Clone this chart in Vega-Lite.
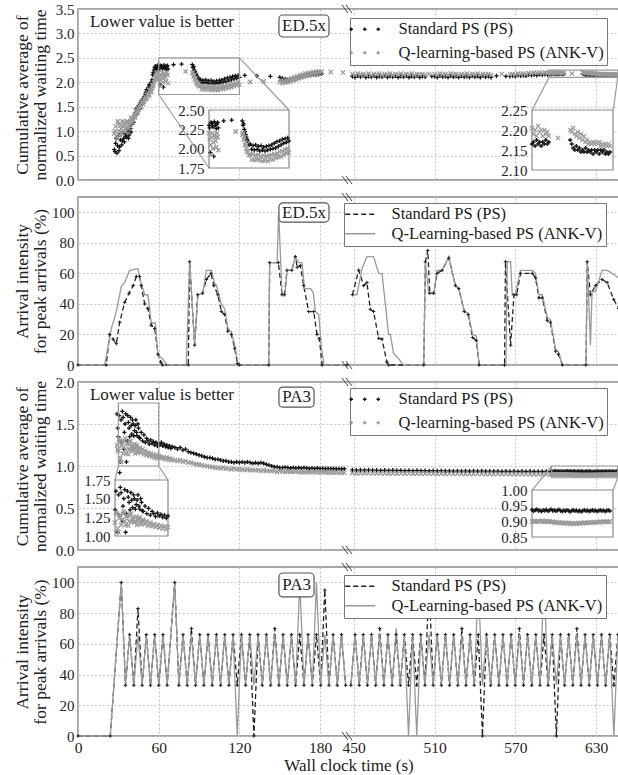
{
"$schema":"https://vega.github.io/schema/vega-lite/v6.json",
"background":"white",
"padding":{"left":12,"top":1,"right":0,"bottom":0},
"autosize":{"type":"pad"},
"bounds":"flush",
"spacing":17,
"datasets":{
"s1":[{"t":27,"p":0.62,"q":0.95},{"t":27.5,"p":0.58,"q":1.0},{"t":28,"p":0.75,"q":1.1},{"t":28.5,"p":0.85,"q":0.9},{"t":29,"p":0.55,"q":0.85},{"t":29.5,"p":0.7,"q":1.2},{"t":30,"p":0.9,"q":1.15},{"t":30.5,"p":0.6,"q":1.0},{"t":31,"p":0.68,"q":0.92},{"t":31.5,"p":0.82,"q":1.12},{"t":32,"p":0.95,"q":1.05},{"t":32.5,"p":0.72,"q":0.95},{"t":33,"p":0.8,"q":1.2},{"t":33.5,"p":0.98,"q":1.1},{"t":34,"p":0.85,"q":1.0},{"t":34.5,"p":0.78,"q":1.18},{"t":35,"p":0.95,"q":1.12},{"t":35.5,"p":0.9,"q":1.0},{"t":36,"p":0.88,"q":1.08},{"t":36.5,"p":1.02,"q":1.2},{"t":37,"p":1.0,"q":1.18},{"t":37.5,"p":0.85,"q":1.05},{"t":38,"p":0.92,"q":1.1},{"t":38.5,"p":1.1,"q":1.15},{"t":39,"p":1.05,"q":1.2},{"t":39.5,"p":0.98,"q":1.28},{"t":40,"p":1.15,"q":1.25},{"t":40.5,"p":1.22,"q":1.18},{"t":41,"p":1.25,"q":1.22},{"t":41.5,"p":1.18,"q":1.3},{"t":42,"p":1.3,"q":1.32},{"t":42.5,"p":1.38,"q":1.28},{"t":43,"p":1.45,"q":1.35},{"t":43.5,"p":1.35,"q":1.4},{"t":44,"p":1.4,"q":1.42},{"t":44.5,"p":1.48,"q":1.38},{"t":45,"p":1.52,"q":1.45},{"t":45.5,"p":1.45,"q":1.5},{"t":46,"p":1.5,"q":1.55},{"t":46.5,"p":1.58,"q":1.48},{"t":47,"p":1.62,"q":1.5},{"t":47.5,"p":1.55,"q":1.58},{"t":48,"p":1.58,"q":1.62},{"t":48.5,"p":1.66,"q":1.55},{"t":49,"p":1.7,"q":1.6},{"t":49.5,"p":1.65,"q":1.66},{"t":50,"p":1.75,"q":1.7},{"t":50.5,"p":1.8,"q":1.65},{"t":51,"p":1.85,"q":1.68},{"t":51.5,"p":1.78,"q":1.74},{"t":52,"p":1.82,"q":1.78},{"t":52.5,"p":1.9,"q":1.72},{"t":53,"p":1.95,"q":1.75},{"t":53.5,"p":1.88,"q":1.82},{"t":54,"p":1.9,"q":1.85},{"t":54.5,"p":2.0,"q":1.8},{"t":55,"p":2.05,"q":1.88},{"t":55.5,"p":2.15,"q":1.92},{"t":56,"p":2.2,"q":1.95},{"t":56.5,"p":2.25,"q":2.0},{"t":57,"p":2.3,"q":2.05},{"t":57.5,"p":2.33,"q":2.1},{"t":58,"p":2.28,"q":2.15},{"t":58.5,"p":2.25,"q":2.2},{"t":59,"p":2.32,"q":2.1},{"t":59.5,"p":2.35,"q":2.05},{"t":60,"p":2.3,"q":2.2},{"t":60.5,"p":2.27,"q":2.12},{"t":61,"p":1.95,"q":2.05},{"t":61.5,"p":2.34,"q":1.92},{"t":62,"p":2.33,"q":2.15},{"t":62.5,"p":2.3,"q":2.2},{"t":63,"p":2.28,"q":2.0},{"t":63.5,"p":1.9,"q":2.08},{"t":64,"p":2.35,"q":2.18},{"t":64.5,"p":2.33,"q":2.15},{"t":65,"p":2.3,"q":2.1},{"t":65.5,"p":2.26,"q":2.02},{"t":66,"p":2.32,"q":2.2},{"t":66.5,"p":2.34,"q":2.15},{"t":67,"p":2.27,"q":1.98},
{"t":71,"p":2.36},{"t":77,"p":2.37},{"t":80,"q":2.22},
{"t":85,"p":2.36,"q":2.18},{"t":85.5,"p":2.3,"q":2.2},{"t":86,"p":2.32,"q":2.12},{"t":86.5,"p":2.25,"q":2.15},{"t":87,"p":2.22,"q":2.05},{"t":87.5,"p":2.18,"q":2.08},{"t":88,"p":2.15,"q":2.0},{"t":88.5,"p":2.12,"q":1.97},{"t":89,"p":2.1,"q":1.95},{"t":90,"p":2.05,"q":1.92},{"t":91,"p":2.06,"q":1.92},{"t":92,"p":1.99,"q":1.86},{"t":93,"p":2.04,"q":1.93},{"t":94,"p":1.98,"q":1.85},{"t":95,"p":2.05,"q":1.91},{"t":96,"p":1.99,"q":1.86},{"t":97,"p":2.03,"q":1.92},{"t":98,"p":1.97,"q":1.85},{"t":99,"p":2.04,"q":1.9},{"t":100,"p":1.98,"q":1.84},{"t":101,"p":2.02,"q":1.91},{"t":102,"p":1.97,"q":1.85},{"t":103,"p":2.03,"q":1.9},{"t":104,"p":1.98,"q":1.84},{"t":105,"p":2.04,"q":1.91},{"t":106,"p":1.99,"q":1.86},{"t":107,"p":2.05,"q":1.92},{"t":108,"p":2.0,"q":1.86},{"t":109,"p":2.07,"q":1.93},{"t":110,"p":2.01,"q":1.88},{"t":111,"p":2.09,"q":1.94},{"t":112,"p":2.03,"q":1.89},{"t":113,"p":2.1,"q":1.96},{"t":114,"p":2.05,"q":1.9},{"t":115,"p":2.12,"q":1.97},{"t":116,"p":2.07,"q":1.92},{"t":117,"p":2.13,"q":1.99},{"t":118,"p":2.08,"q":1.94},{"t":119,"p":2.14,"q":2.0},{"t":120,"p":2.1,"q":1.95},
{"t":124,"p":2.14},{"t":128,"q":2.01},{"t":133,"p":2.13},{"t":138,"q":2.02},{"t":143,"p":2.12},
{"t":150,"p":2.1,"q":2.0},{"t":151,"p":2.05,"q":2.04},{"t":152,"p":2.08,"q":1.98},{"t":153,"p":2.03,"q":2.03},{"t":154,"p":2.07,"q":1.99},{"t":155,"p":2.02,"q":2.04},{"t":156,"p":2.06,"q":2.0},{"t":157,"p":2.03,"q":2.06},{"t":158,"p":2.07,"q":2.02},{"t":159,"p":2.04,"q":2.08},{"t":160,"p":2.08,"q":2.04},{"t":161,"p":2.05,"q":2.1},{"t":162,"p":2.1,"q":2.06},{"t":163,"p":2.07,"q":2.12},{"t":164,"p":2.12,"q":2.08},{"t":165,"p":2.09,"q":2.14},{"t":166,"p":2.14,"q":2.1},{"t":167,"p":2.11,"q":2.16},{"t":168,"p":2.15,"q":2.12},{"t":169,"p":2.12,"q":2.18},{"t":170,"p":2.16,"q":2.14},{"t":171,"p":2.13,"q":2.19},{"t":172,"p":2.17,"q":2.15},{"t":173,"p":2.14,"q":2.2},{"t":174,"p":2.18,"q":2.16},{"t":175,"p":2.15,"q":2.21},{"t":176,"p":2.18,"q":2.17},{"t":177,"p":2.15,"q":2.22},{"t":178,"p":2.19,"q":2.18},{"t":179,"p":2.16,"q":2.22},{"t":180,"p":2.19,"q":2.19},{"t":181,"p":2.17,"q":2.22},
{"t":188,"q":2.21},{"t":197,"q":2.2},
{"t":449,"p":2.12,"q":2.17},{"t":451,"p":2.1,"q":2.15},{"t":453,"p":2.13,"q":2.18},{"t":455,"p":2.11,"q":2.16},{"t":457,"p":2.14,"q":2.17},{"t":459,"p":2.1,"q":2.15},{"t":461,"p":2.12,"q":2.18},{"t":463,"p":2.11,"q":2.15},{"t":465,"p":2.13,"q":2.17},{"t":467,"p":2.1,"q":2.16},{"t":469,"p":2.12,"q":2.18},{"t":471,"p":2.11,"q":2.15},{"t":473,"p":2.14,"q":2.17},{"t":475,"p":2.1,"q":2.16},{"t":477,"p":2.12,"q":2.18},{"t":479,"p":2.11,"q":2.15},{"t":481,"p":2.13,"q":2.17},{"t":483,"p":2.1,"q":2.16},{"t":485,"p":2.12,"q":2.18},{"t":487,"p":2.11,"q":2.15},{"t":489,"p":2.13,"q":2.17},{"t":491,"p":2.1,"q":2.16},{"t":493,"p":2.12,"q":2.18},{"t":495,"p":2.11,"q":2.15},{"t":497,"p":2.13,"q":2.17},{"t":499,"p":2.1,"q":2.16},{"t":501,"p":2.12,"q":2.17},{"t":503,"p":2.11,"q":2.15},
{"t":506,"q":2.17},{"t":508,"p":2.12},
{"t":510,"p":2.12,"q":2.17},{"t":512,"p":2.1,"q":2.15},{"t":514,"p":2.13,"q":2.18},{"t":516,"p":2.11,"q":2.16},{"t":518,"p":2.12,"q":2.17},{"t":520,"p":2.1,"q":2.15},{"t":522,"p":2.13,"q":2.18},{"t":524,"p":2.11,"q":2.16},{"t":526,"p":2.12,"q":2.17},{"t":528,"p":2.1,"q":2.15},{"t":530,"p":2.13,"q":2.17},{"t":532,"p":2.11,"q":2.16},{"t":534,"p":2.12,"q":2.18},{"t":536,"p":2.1,"q":2.15},{"t":538,"p":2.13,"q":2.17},{"t":540,"p":2.11,"q":2.16},{"t":542,"p":2.12,"q":2.18},{"t":544,"p":2.1,"q":2.15},{"t":546,"p":2.13,"q":2.17},{"t":548,"p":2.11,"q":2.16},{"t":550,"p":2.12,"q":2.17},{"t":552,"p":2.1,"q":2.15},
{"t":556,"p":2.13},{"t":560,"q":2.17},{"t":563,"p":2.12},
{"t":566,"p":2.12,"q":2.16},{"t":568,"p":2.13,"q":2.17},{"t":570,"p":2.12,"q":2.16},{"t":572,"p":2.14,"q":2.18},{"t":574,"p":2.13,"q":2.17},{"t":576,"p":2.14,"q":2.18},{"t":578,"p":2.13,"q":2.17},{"t":580,"p":2.15,"q":2.19},{"t":582,"p":2.14,"q":2.18},{"t":584,"p":2.15,"q":2.2},{"t":586,"p":2.14,"q":2.19},{"t":588,"p":2.16,"q":2.2},{"t":590,"p":2.15,"q":2.19},{"t":592,"p":2.16,"q":2.2},{"t":594,"p":2.15,"q":2.19},
{"t":595,"p":2.165,"q":2.205},{"t":596,"p":2.17,"q":2.19},{"t":597,"p":2.16,"q":2.2},{"t":598,"p":2.175,"q":2.185},{"t":599,"p":2.165,"q":2.21},{"t":600,"p":2.17,"q":2.195},{"t":601,"p":2.16,"q":2.2},{"t":602,"p":2.17,"q":2.185},{"t":603,"p":2.165,"q":2.2},{"t":604,"p":2.175,"q":2.19},{"t":605,"p":2.165,"q":2.195},{"t":606,"p":2.17,"q":2.185},
{"t":612,"q":2.18},
{"t":620,"p":2.175,"q":2.2},{"t":621,"p":2.165,"q":2.195},{"t":622,"p":2.155,"q":2.205},{"t":623,"p":2.15,"q":2.19},{"t":624,"p":2.16,"q":2.185},{"t":625,"p":2.15,"q":2.195},{"t":626,"p":2.155,"q":2.18},{"t":627,"p":2.145,"q":2.19},{"t":628,"p":2.15,"q":2.175},{"t":629,"p":2.145,"q":2.185},{"t":630,"p":2.155,"q":2.17},{"t":631,"p":2.145,"q":2.175},{"t":632,"p":2.15,"q":2.165},{"t":633,"p":2.145,"q":2.17},{"t":634,"p":2.15,"q":2.165},{"t":635,"p":2.14,"q":2.17},{"t":636,"p":2.15,"q":2.165},{"t":637,"p":2.145,"q":2.17},{"t":638,"p":2.15,"q":2.165},{"t":639,"p":2.14,"q":2.17},{"t":640,"p":2.15,"q":2.16},{"t":641,"p":2.145,"q":2.165},{"t":642,"p":2.15,"q":2.16},{"t":643,"p":2.14,"q":2.165},{"t":644,"p":2.145,"q":2.16},{"t":645,"p":2.14,"q":2.165},{"t":646,"p":2.145,"q":2.16}],
"s3":[{"t":29,"p":1.62,"q":1.25},{"t":29.5,"p":1.45,"q":1.2},{"t":30,"p":1.35,"q":1.18},{"t":30.5,"p":1.6,"q":1.32},{"t":31,"p":0.92,"q":1.3},{"t":31.5,"p":1.05,"q":1.1},{"t":32,"p":1.55,"q":1.05},{"t":32.5,"p":1.28,"q":1.24},{"t":33,"p":1.65,"q":1.28},{"t":33.5,"p":1.58,"q":1.15},{"t":34,"p":1.2,"q":1.22},{"t":34.5,"p":1.4,"q":1.3},{"t":35,"p":1.5,"q":1.33},{"t":35.5,"p":1.62,"q":1.2},{"t":36,"p":1.05,"q":1.15},{"t":36.5,"p":1.3,"q":1.26},{"t":37,"p":1.6,"q":1.27},{"t":37.5,"p":1.52,"q":1.14},{"t":38,"p":1.45,"q":1.2},{"t":38.5,"p":1.35,"q":1.28},{"t":39,"p":1.58,"q":1.3},{"t":39.5,"p":1.48,"q":1.19},{"t":40,"p":1.38,"q":1.24},{"t":40.5,"p":1.55,"q":1.23},{"t":41,"p":1.5,"q":1.18},{"t":41.5,"p":1.36,"q":1.2},{"t":42,"p":1.42,"q":1.26},{"t":42.5,"p":1.48,"q":1.15},{"t":43,"p":1.55,"q":1.21},{"t":43.5,"p":1.4,"q":1.23},{"t":44,"p":1.36,"q":1.25},{"t":44.5,"p":1.5,"q":1.16},{"t":45,"p":1.45,"q":1.17},{"t":45.5,"p":1.34,"q":1.2},{"t":46,"p":1.33,"q":1.22},{"t":47,"p":1.4,"q":1.16},{"t":48,"p":1.3,"q":1.2},{"t":49,"p":1.37,"q":1.14},{"t":50,"p":1.28,"q":1.18},{"t":51,"p":1.33,"q":1.13},{"t":52,"p":1.3,"q":1.16},{"t":53,"p":1.26,"q":1.12},{"t":54,"p":1.31,"q":1.15},{"t":55,"p":1.27,"q":1.11},{"t":56,"p":1.29,"q":1.14},{"t":57,"p":1.25,"q":1.1},{"t":58,"p":1.28,"q":1.13},{"t":59,"p":1.24,"q":1.09},{"t":60,"p":1.27,"q":1.12},{"t":61,"p":1.25,"q":1.1},{"t":62,"p":1.28,"q":1.11},{"t":63,"p":1.24,"q":1.09},{"t":64,"p":1.26,"q":1.1},{"t":65,"p":1.23,"q":1.08},{"t":66,"p":1.25,"q":1.1},{"t":67,"p":1.22,"q":1.08},{"t":68,"p":1.24,"q":1.09},{"t":69,"p":1.21,"q":1.07},{"t":70,"p":1.23,"q":1.08},
{"t":72,"p":1.22,"q":1.07},{"t":74,"p":1.2,"q":1.06},{"t":76,"p":1.22,"q":1.07},{"t":78,"p":1.19,"q":1.05},{"t":80,"p":1.2,"q":1.06},{"t":82,"p":1.17,"q":1.04},{"t":84,"p":1.16,"q":1.04},{"t":86,"p":1.15,"q":1.03},{"t":88,"p":1.14,"q":1.02},{"t":90,"p":1.13,"q":1.02},{"t":92,"p":1.12,"q":1.01},{"t":94,"p":1.11,"q":1.0},{"t":96,"p":1.1,"q":1.0},{"t":98,"p":1.1,"q":0.99},{"t":100,"p":1.09,"q":0.99},{"t":102,"p":1.08,"q":0.98},{"t":104,"p":1.08,"q":0.98},{"t":106,"p":1.07,"q":0.97},{"t":108,"p":1.06,"q":0.98},{"t":110,"p":1.06,"q":0.97},{"t":112,"p":1.05,"q":0.97},{"t":114,"p":1.05,"q":0.96},{"t":116,"p":1.04,"q":0.97},{"t":118,"p":1.05,"q":0.96},{"t":120,"p":1.04,"q":0.96},{"t":122,"p":1.05,"q":0.96},{"t":124,"p":1.04,"q":0.95},{"t":126,"p":1.05,"q":0.96},{"t":128,"p":1.04,"q":0.95},{"t":130,"p":1.03,"q":0.95},{"t":132,"p":1.04,"q":0.95},{"t":134,"p":1.03,"q":0.95},{"t":136,"p":1.04,"q":0.94},{"t":138,"p":1.03,"q":0.95},{"t":140,"p":1.02,"q":0.94},{"t":142,"p":1.01,"q":0.94},{"t":144,"p":1.0,"q":0.94},{"t":146,"p":0.99,"q":0.94},{"t":148,"p":0.99,"q":0.93},{"t":150,"p":0.98,"q":0.94},{"t":152,"p":0.98,"q":0.935},{"t":154,"p":0.985,"q":0.93},{"t":156,"p":0.98,"q":0.935},{"t":158,"p":0.975,"q":0.93},{"t":160,"p":0.98,"q":0.93},{"t":162,"p":0.975,"q":0.935},{"t":164,"p":0.98,"q":0.93},{"t":166,"p":0.975,"q":0.925},{"t":168,"p":0.98,"q":0.93},{"t":170,"p":0.975,"q":0.925},{"t":172,"p":0.97,"q":0.93},{"t":174,"p":0.975,"q":0.925},{"t":176,"p":0.97,"q":0.93},{"t":178,"p":0.975,"q":0.925},{"t":180,"p":0.97,"q":0.925},{"t":182,"p":0.972,"q":0.928},{"t":184,"p":0.968,"q":0.925},{"t":186,"p":0.97,"q":0.922},{"t":188,"p":0.968,"q":0.925},{"t":190,"p":0.97,"q":0.922},{"t":192,"p":0.966,"q":0.924},{"t":194,"p":0.968,"q":0.92},{"t":196,"p":0.965,"q":0.922},{"t":198,"p":0.967,"q":0.92},
{"t":449,"p":0.955,"q":0.916},{"t":452,"p":0.952,"q":0.913},{"t":455,"p":0.954,"q":0.915},{"t":458,"p":0.951,"q":0.912},{"t":461,"p":0.953,"q":0.914},{"t":464,"p":0.95,"q":0.911},{"t":467,"p":0.952,"q":0.913},{"t":470,"p":0.949,"q":0.911},{"t":473,"p":0.951,"q":0.912},{"t":476,"p":0.948,"q":0.91},{"t":479,"p":0.95,"q":0.912},{"t":482,"p":0.947,"q":0.91},{"t":485,"p":0.949,"q":0.911},{"t":488,"p":0.946,"q":0.909},{"t":491,"p":0.948,"q":0.911},{"t":494,"p":0.945,"q":0.909},{"t":497,"p":0.947,"q":0.91},{"t":500,"p":0.944,"q":0.908},{"t":503,"p":0.946,"q":0.91},{"t":506,"p":0.943,"q":0.908},{"t":509,"p":0.945,"q":0.909},{"t":512,"p":0.942,"q":0.907},{"t":515,"p":0.944,"q":0.909},{"t":518,"p":0.941,"q":0.907},{"t":521,"p":0.943,"q":0.908},{"t":524,"p":0.94,"q":0.906},{"t":527,"p":0.942,"q":0.908},{"t":530,"p":0.94,"q":0.906},{"t":533,"p":0.942,"q":0.907},{"t":536,"p":0.939,"q":0.905},{"t":539,"p":0.941,"q":0.907},{"t":542,"p":0.939,"q":0.905},{"t":545,"p":0.941,"q":0.906},{"t":548,"p":0.938,"q":0.904},{"t":551,"p":0.94,"q":0.906},{"t":554,"p":0.938,"q":0.904},{"t":557,"p":0.94,"q":0.905},{"t":560,"p":0.937,"q":0.903},{"t":563,"p":0.939,"q":0.905},{"t":566,"p":0.937,"q":0.903},{"t":569,"p":0.939,"q":0.904},{"t":572,"p":0.936,"q":0.902},{"t":575,"p":0.938,"q":0.904},{"t":578,"p":0.936,"q":0.902},{"t":581,"p":0.938,"q":0.903},{"t":584,"p":0.935,"q":0.901},{"t":587,"p":0.937,"q":0.903},{"t":590,"p":0.935,"q":0.901},{"t":593,"p":0.937,"q":0.902},
{"t":596,"p":0.934,"q":0.901},{"t":597,"p":0.937,"q":0.899},{"t":598,"p":0.933,"q":0.902},{"t":599,"p":0.936,"q":0.9},{"t":600,"p":0.938,"q":0.898},{"t":601,"p":0.934,"q":0.901},{"t":602,"p":0.935,"q":0.899},{"t":603,"p":0.932,"q":0.902},{"t":604,"p":0.936,"q":0.9},{"t":605,"p":0.934,"q":0.898},{"t":606,"p":0.937,"q":0.901},{"t":607,"p":0.933,"q":0.899},{"t":608,"p":0.935,"q":0.9},{"t":609,"p":0.938,"q":0.897},{"t":610,"p":0.934,"q":0.899},{"t":611,"p":0.936,"q":0.896},{"t":612,"p":0.933,"q":0.898},{"t":613,"p":0.935,"q":0.895},{"t":614,"p":0.937,"q":0.897},{"t":615,"p":0.934,"q":0.894},{"t":616,"p":0.932,"q":0.896},{"t":617,"p":0.935,"q":0.893},{"t":618,"p":0.933,"q":0.895},{"t":619,"p":0.936,"q":0.893},{"t":620,"p":0.934,"q":0.895},{"t":621,"p":0.931,"q":0.892},{"t":622,"p":0.934,"q":0.894},{"t":623,"p":0.936,"q":0.892},{"t":624,"p":0.933,"q":0.894},{"t":625,"p":0.935,"q":0.893},{"t":626,"p":0.932,"q":0.895},{"t":627,"p":0.934,"q":0.893},{"t":628,"p":0.931,"q":0.895},{"t":629,"p":0.934,"q":0.894},{"t":630,"p":0.936,"q":0.896},{"t":631,"p":0.933,"q":0.894},{"t":632,"p":0.935,"q":0.896},{"t":633,"p":0.932,"q":0.895},{"t":634,"p":0.934,"q":0.897},{"t":635,"p":0.936,"q":0.896},{"t":636,"p":0.933,"q":0.898},{"t":637,"p":0.935,"q":0.896},{"t":638,"p":0.932,"q":0.898},{"t":639,"p":0.934,"q":0.897},{"t":640,"p":0.936,"q":0.899},{"t":641,"p":0.933,"q":0.897},{"t":642,"p":0.935,"q":0.899},{"t":643,"p":0.932,"q":0.898},{"t":644,"p":0.934,"q":0.9},{"t":645,"p":0.936,"q":0.898},{"t":646,"p":0.933,"q":0.9}],
"l2":[{"t":0,"p":0},{"t":21,"p":0},{"t":23.5,"p":20},{"t":26,"p":17},{"t":28.5,"p":14},{"t":31,"p":28},{"t":34.7,"p":41},{"t":38,"p":47},{"t":41,"p":52},{"t":43.4,"p":58},{"t":45.8,"p":58},{"t":47,"p":52},{"t":49.6,"p":40},{"t":52,"p":37},{"t":54.5,"p":26},{"t":57,"p":24},{"t":59.5,"p":7},{"t":61.5,"p":2},{"t":63,"p":0},{"t":82,"p":0},{"t":83,"p":67.6},{"t":86.7,"p":13},{"t":89,"p":46},{"t":92.6,"p":47},{"t":95.5,"p":56},{"t":98.8,"p":60},{"t":101,"p":52},{"t":104,"p":46},{"t":106.6,"p":35},{"t":109,"p":33},{"t":111.5,"p":22},{"t":114,"p":20},{"t":116.5,"p":11},{"t":118.5,"p":1},{"t":120,"p":0},{"t":141.8,"p":0},{"t":142.5,"p":67},{"t":149,"p":67},{"t":151.7,"p":46},{"t":153.5,"p":46},{"t":155.4,"p":62},{"t":159,"p":62},{"t":161.6,"p":71},{"t":163,"p":64},{"t":165.3,"p":65},{"t":167.8,"p":52},{"t":171.5,"p":35},{"t":175.2,"p":35},{"t":177.7,"p":20},{"t":179.5,"p":17},{"t":181.5,"p":0},{"t":200,"p":0},
{"t":449,"p":46},{"t":453.7,"p":62},{"t":457.4,"p":52},{"t":459.8,"p":54},{"t":462.3,"p":36.5},{"t":464.7,"p":35},{"t":468.5,"p":17.5},{"t":471,"p":17},{"t":474.6,"p":2},{"t":476,"p":0},{"t":502,"p":0},{"t":503.2,"p":67.6},{"t":505,"p":75},{"t":506.5,"p":47},{"t":509.4,"p":47},{"t":511.9,"p":60},{"t":515.6,"p":62},{"t":520.6,"p":70},{"t":525.5,"p":52},{"t":528,"p":50},{"t":532.1,"p":35},{"t":535,"p":33},{"t":538.3,"p":18},{"t":541,"p":16},{"t":543.2,"p":0},{"t":562,"p":0},{"t":562.7,"p":67.6},{"t":566.5,"p":13},{"t":569,"p":46},{"t":571,"p":46},{"t":573.8,"p":60},{"t":582.5,"p":60},{"t":585,"p":57},{"t":587.5,"p":44},{"t":590,"p":44},{"t":593.8,"p":29},{"t":596,"p":28},{"t":600,"p":9},{"t":602,"p":7},{"t":605,"p":0},{"t":622.5,"p":0},{"t":623.4,"p":67.6},{"t":625.8,"p":46},{"t":629.5,"p":52},{"t":634.4,"p":56},{"t":638.2,"p":54},{"t":643,"p":43},{"t":646.8,"p":37},
{"t":0,"q":0},{"t":19.8,"q":0},{"t":24.8,"q":24},{"t":28.5,"q":35},{"t":32.2,"q":51.5},{"t":34.7,"q":54},{"t":38.4,"q":62},{"t":44.6,"q":63},{"t":45.8,"q":57},{"t":49.6,"q":46},{"t":52,"q":46},{"t":54.5,"q":27.5},{"t":57.5,"q":27.5},{"t":59.5,"q":6.5},{"t":63,"q":4},{"t":65.5,"q":1},{"t":67,"q":0},{"t":80.5,"q":0},{"t":83,"q":67.7},{"t":86.7,"q":13},{"t":89.2,"q":46},{"t":92.9,"q":47},{"t":95.4,"q":62},{"t":99.1,"q":62},{"t":101.6,"q":53.5},{"t":103,"q":52},{"t":106.6,"q":39.5},{"t":109,"q":37},{"t":111.5,"q":24},{"t":114,"q":22},{"t":116.5,"q":13},{"t":119,"q":1},{"t":120.5,"q":0},{"t":141.8,"q":0},{"t":142.5,"q":67},{"t":148,"q":67},{"t":149.2,"q":100},{"t":151.7,"q":46},{"t":154,"q":47},{"t":155.5,"q":62},{"t":159,"q":62},{"t":161.6,"q":71},{"t":164,"q":67},{"t":166.5,"q":67},{"t":168.5,"q":50},{"t":173,"q":50},{"t":175,"q":47},{"t":176.5,"q":35},{"t":179,"q":33},{"t":181,"q":11},{"t":183,"q":0},{"t":200,"q":0},
{"t":449,"q":46},{"t":452.4,"q":46},{"t":456.1,"q":63},{"t":459.8,"q":71},{"t":464.7,"q":71},{"t":468.5,"q":60},{"t":471,"q":60},{"t":475.9,"q":20},{"t":477.2,"q":20},{"t":479.6,"q":7.6},{"t":483.4,"q":4},{"t":487,"q":0},{"t":502,"q":0},{"t":503.2,"q":67.6},{"t":505.7,"q":47},{"t":509.4,"q":47},{"t":511.9,"q":62},{"t":515.6,"q":62},{"t":520.6,"q":71},{"t":525.5,"q":52},{"t":528,"q":50},{"t":532.1,"q":35},{"t":535,"q":34},{"t":538.3,"q":20},{"t":541,"q":19},{"t":543.2,"q":0},{"t":563,"q":0},{"t":564,"q":67.6},{"t":566.5,"q":67.6},{"t":567.7,"q":46},{"t":570,"q":46},{"t":573.8,"q":62},{"t":582.5,"q":62},{"t":585,"q":60},{"t":587.5,"q":46},{"t":590,"q":46},{"t":593.8,"q":31},{"t":596,"q":30},{"t":600,"q":10},{"t":602,"q":9},{"t":605,"q":0},{"t":622.5,"q":0},{"t":623.4,"q":67.6},{"t":625.8,"q":13},{"t":627,"q":48},{"t":629.5,"q":48},{"t":634.4,"q":62},{"t":638.2,"q":62},{"t":641.9,"q":60},{"t":646.8,"q":57}],
"l4":[{"t":0,"p":0,"q":0},{"t":24,"p":0,"q":0},{"t":32.2,"p":100,"q":100},{"t":35.3,"p":33,"q":33},{"t":38.4,"p":66,"q":66},{"t":41.5,"p":33,"q":33},{"t":44.6,"p":83,"q":66},{"t":47.7,"p":33,"q":33},{"t":50.8,"p":66,"q":66},{"t":53.9,"p":33,"q":33},{"t":57,"p":66,"q":66},{"t":60.1,"p":33,"q":33},{"t":63.2,"p":66,"q":66},{"t":66.3,"p":33,"q":33},{"t":71.9,"p":100,"q":100},{"t":75,"p":33,"q":33},{"t":78.1,"p":66,"q":66},{"t":81.2,"p":33,"q":33},{"t":84.3,"p":70,"q":66},{"t":87.4,"p":33,"q":33},{"t":90.5,"p":66,"q":66},{"t":93.6,"p":33,"q":33},{"t":96.7,"p":66,"q":66},{"t":99.8,"p":33,"q":33},{"t":102.9,"p":66,"q":66},{"t":106,"p":33,"q":33},{"t":109.1,"p":66,"q":66},{"t":112.2,"p":33,"q":33},{"t":115.3,"p":66,"q":66},{"t":118.4,"p":33,"q":0},{"t":121.5,"p":66,"q":66},{"t":124.6,"p":33,"q":33},{"t":127.7,"p":66,"q":66},{"t":130.8,"p":0,"q":33},{"t":133.9,"p":66,"q":66},{"t":137,"p":33,"q":33},{"t":140.1,"p":66,"q":66},{"t":143.2,"p":33,"q":33},{"t":146.3,"p":70,"q":66},{"t":149.4,"p":33,"q":33},{"t":152.5,"p":66,"q":66},{"t":155.6,"p":33,"q":33},{"t":158.7,"p":66,"q":66},{"t":161.8,"p":33,"q":33},{"t":164.9,"p":66,"q":100},{"t":168,"p":33,"q":33},{"t":171.1,"p":66,"q":66},{"t":174.2,"p":33,"q":33},{"t":177.3,"p":66,"q":100},{"t":180.4,"p":33,"q":33},{"t":183.5,"p":95,"q":66},{"t":186.6,"p":33,"q":33},{"t":189.7,"p":66,"q":66},{"t":192.8,"p":33,"q":33},{"t":195.9,"p":66,"q":66},{"t":199,"p":33,"q":33},
{"t":447.9,"p":33,"q":33},{"t":451,"p":66,"q":66},{"t":454.1,"p":33,"q":33},{"t":457.1,"p":66,"q":66},{"t":460.2,"p":33,"q":33},{"t":463.2,"p":66,"q":66},{"t":466.3,"p":33,"q":33},{"t":469.3,"p":70,"q":66},{"t":472.4,"p":33,"q":33},{"t":475.4,"p":66,"q":66},{"t":478.5,"p":33,"q":33},{"t":481.5,"p":66,"q":70},{"t":484.6,"p":33,"q":33},{"t":487.6,"p":66,"q":66},{"t":490.7,"p":33,"q":0},{"t":493.7,"p":66,"q":66},{"t":496.8,"p":33,"q":0},{"t":499.8,"p":66,"q":66},{"t":502.9,"p":33,"q":33},{"t":505.9,"p":100,"q":66},{"t":509,"p":33,"q":33},{"t":512,"p":66,"q":66},{"t":515.1,"p":33,"q":33},{"t":518.1,"p":66,"q":66},{"t":521.2,"p":33,"q":33},{"t":524.2,"p":66,"q":66},{"t":527.3,"p":33,"q":33},{"t":530.3,"p":70,"q":66},{"t":533.4,"p":33,"q":33},{"t":536.4,"p":66,"q":66},{"t":539.5,"p":33,"q":33},{"t":542.5,"p":66,"q":100},{"t":545.6,"p":0,"q":33},{"t":548.6,"p":66,"q":66},{"t":551.7,"p":33,"q":33},{"t":554.7,"p":66,"q":66},{"t":557.8,"p":33,"q":33},{"t":560.8,"p":66,"q":66},{"t":563.9,"p":33,"q":33},{"t":566.9,"p":66,"q":66},{"t":570,"p":33,"q":33},{"t":573,"p":70,"q":66},{"t":576.1,"p":33,"q":33},{"t":579.1,"p":66,"q":66},{"t":582.2,"p":33,"q":33},{"t":585.2,"p":66,"q":66},{"t":588.3,"p":33,"q":33},{"t":591.3,"p":66,"q":100},{"t":594.4,"p":33,"q":33},{"t":597.4,"p":66,"q":66},{"t":600.5,"p":0,"q":33},{"t":603.5,"p":66,"q":66},{"t":606.6,"p":33,"q":33},{"t":609.6,"p":66,"q":66},{"t":612.7,"p":33,"q":33},{"t":615.7,"p":70,"q":66},{"t":618.8,"p":33,"q":33},{"t":621.8,"p":66,"q":66},{"t":624.9,"p":33,"q":33},{"t":627.9,"p":66,"q":66},{"t":631,"p":33,"q":33},{"t":634,"p":66,"q":66},{"t":637.1,"p":33,"q":33},{"t":640.1,"p":66,"q":66},{"t":643.2,"p":33,"q":0},{"t":646.2,"p":66,"q":66}]
},
"vconcat":[
{"width":541,"height":171,
 "resolve":{"scale":{"x":"independent","y":"independent"},"axis":{"x":"independent","y":"independent"}},
 "layer":[
  {"data":{"values":[{}]},
   "layer":[
    {"data":{"name":"s1"},"transform":[{"fold":["p"],"as":["k","v"]},{"filter":"isValid(datum.v)"}],
     "mark":{"type":"point","shape":"M-1,0H1M0,-1V1","filled":false,"size":18,"strokeWidth":1.3,"opacity":1},
     "encoding":{
      "x":{"field":"t","type":"quantitative","scale":{"domain":[0,200,445,647],"range":[0,269,269,541],"nice":false,"zero":false},"axis":{"values":[0,60,120,180,450,510,570,630],"tickCount":20,"labels":false,"title":null,"grid":true}},
      "y":{"field":"v","type":"quantitative","scale":{"domain":[0,3.5],"nice":false,"zero":false},"axis":{"orient":"left","values":[0,0.5,1,1.5,2,2.5,3,3.5],"tickCount":20,"format":".1f","labelOverlap":false,"title":["Cumulative average of","normalized waiting time"],"titleX":-47,"titleY":85.5,"grid":true}},
      "color":{"field":"k","type":"nominal","scale":{"domain":["p","q"],"range":["#141414","#9a9a9a"]},"legend":{"orient":"none","legendX":272,"legendY":9,"title":null,"direction":"vertical","fillColor":"white","strokeColor":"#777","padding":3,"rowPadding":6.5,"labelFontSize":16.5,"labelColor":"#1a1a1a","labelOffset":29,"labelLimit":400,"symbolType":"M-5.9,0H-4.1M-5,-0.9V0.9M0.85,0H2.65M1.75,-0.9V0.9M7.6,0H9.4M8.5,-0.9V0.9","symbolSize":16,"symbolStrokeWidth":1.3,"labelExpr":"datum.value == 'p' ? 'Standard PS (PS)' : 'Q-learning-based PS (ANK-V)'","encode":{"symbols":{"shape":{"value":{"expr":"datum.value == 'p' ? 'M-5.9,0H-4.1M-5,-0.9V0.9M0.85,0H2.65M1.75,-0.9V0.9M7.6,0H9.4M8.5,-0.9V0.9' : 'M-5.8,-0.8L-4.2,0.8M-4.2,-0.8L-5.8,0.8M0.95,-0.8L2.55,0.8M2.55,-0.8L0.95,0.8M7.7,-0.8L9.3,0.8M9.3,-0.8L7.7,0.8'"}}}}}}
     }},
    {"data":{"name":"s1"},"transform":[{"fold":["q"],"as":["k","v"]},{"filter":"isValid(datum.v)"}],
     "mark":{"type":"point","shape":"M-1,-1L1,1M1,-1L-1,1","filled":false,"size":18,"strokeWidth":1.3,"opacity":1},
     "encoding":{"x":{"field":"t","type":"quantitative"},"y":{"field":"v","type":"quantitative"},"color":{"field":"k","type":"nominal"}}},
    {"mark":{"type":"rect","fill":"transparent","stroke":"#9a9a9a","strokeWidth":1.2},"encoding":{"x":{"datum":60},"x2":{"datum":120},"y":{"datum":1.75},"y2":{"datum":2.5}}},
    {"mark":{"type":"rect","fill":"transparent","stroke":"#9a9a9a","strokeWidth":1.2},"encoding":{"x":{"datum":595},"x2":{"datum":646},"y":{"datum":2.1},"y2":{"datum":2.25}}},
    {"mark":{"type":"rule","color":"#9a9a9a","strokeWidth":1.2},"encoding":{"x":{"datum":60},"y":{"datum":1.75},"x2":{"datum":97.4},"y2":{"datum":0.246}}},
    {"mark":{"type":"rule","color":"#9a9a9a","strokeWidth":1.2},"encoding":{"x":{"datum":120},"y":{"datum":2.5},"x2":{"datum":156.9},"y2":{"datum":1.433}}},
    {"mark":{"type":"rule","color":"#9a9a9a","strokeWidth":1.2},"encoding":{"x":{"datum":595},"y":{"datum":2.1},"x2":{"datum":582.5},"y2":{"datum":1.433}}},
    {"mark":{"type":"rule","color":"#9a9a9a","strokeWidth":1.2},"encoding":{"x":{"datum":646},"y":{"datum":2.1},"x2":{"datum":642.8},"y2":{"datum":1.433}}},
    {"mark":{"type":"text","text":"Lower value is better","fontSize":17,"align":"left","color":"#222"},"encoding":{"x":{"datum":8.9},"y":{"datum":3.234}}},
    {"mark":{"type":"rect","fill":"white","stroke":"#555","strokeWidth":1.2,"cornerRadius":4},"encoding":{"x":{"datum":149.4},"x2":{"datum":186.6},"y":{"datum":2.927},"y2":{"datum":3.377}}},
    {"mark":{"type":"text","text":"ED.5x","fontSize":17,"color":"#222"},"encoding":{"x":{"datum":168},"y":{"datum":3.15}}},
    {"mark":{"type":"point","shape":"M-1,-0.8L0.2,0.8M-0.2,-0.8L1,0.8","filled":false,"size":100,"color":"#444","strokeWidth":1,"opacity":1},"encoding":{"x":{"datum":200},"y":{"datum":3.5}}},
    {"mark":{"type":"point","shape":"M-1,-0.8L0.2,0.8M-0.2,-0.8L1,0.8","filled":false,"size":100,"color":"#444","strokeWidth":1,"opacity":1},"encoding":{"x":{"datum":200},"y":{"datum":0}}}
   ]},
  {"data":{"values":[{}]},
   "layer":[
    {"mark":{"type":"rect","fill":"white","stroke":"#888","strokeWidth":1.2},"encoding":{"x":{"datum":60,"type":"quantitative","scale":{"domain":[60,120],"range":[131,211],"nice":false,"zero":false},"axis":null},"x2":{"datum":120},"y":{"datum":1.75,"type":"quantitative","scale":{"domain":[1.75,2.5],"range":[159,101],"nice":false,"zero":false},"axis":{"orient":"left","offset":-131,"values":[1.75,2,2.25,2.5],"tickCount":20,"format":".2f","labelOverlap":false,"grid":false,"title":null,"labelPadding":5}},"y2":{"datum":2.5}}},
    {"data":{"name":"s1"},"transform":[{"fold":["p"],"as":["k","v"]},{"filter":"isValid(datum.v)"},{"filter":"datum.t >= 60 && datum.t <= 120 && datum.v >= 1.75 && datum.v <= 2.5"}],
     "mark":{"type":"point","shape":"M-1,0H1M0,-1V1","filled":false,"size":18,"strokeWidth":1.3,"opacity":1},
     "encoding":{"x":{"field":"t","type":"quantitative","axis":null},"y":{"field":"v","type":"quantitative"},"color":{"field":"k","type":"nominal"}}},
    {"data":{"name":"s1"},"transform":[{"fold":["q"],"as":["k","v"]},{"filter":"isValid(datum.v)"},{"filter":"datum.t >= 60 && datum.t <= 120 && datum.v >= 1.75 && datum.v <= 2.5"}],
     "mark":{"type":"point","shape":"M-1,-1L1,1M1,-1L-1,1","filled":false,"size":18,"strokeWidth":1.3,"opacity":1},
     "encoding":{"x":{"field":"t","type":"quantitative","axis":null},"y":{"field":"v","type":"quantitative"},"color":{"field":"k","type":"nominal"}}}
   ]},
  {"data":{"values":[{}]},
   "layer":[
    {"mark":{"type":"rect","fill":"white","stroke":"#888","strokeWidth":1.2},"encoding":{"x":{"datum":595,"type":"quantitative","scale":{"domain":[595,648],"range":[454,535],"nice":false,"zero":false},"axis":null},"x2":{"datum":648},"y":{"datum":2.1,"type":"quantitative","scale":{"domain":[2.1,2.25],"range":[161,101],"nice":false,"zero":false},"axis":{"orient":"left","offset":-454,"values":[2.1,2.15,2.2,2.25],"tickCount":20,"format":".2f","labelOverlap":false,"grid":false,"title":null,"labelPadding":5}},"y2":{"datum":2.25}}},
    {"data":{"name":"s1"},"transform":[{"fold":["p"],"as":["k","v"]},{"filter":"isValid(datum.v)"},{"filter":"datum.t >= 595 && datum.v >= 2.1 && datum.v <= 2.25"}],
     "mark":{"type":"point","shape":"M-1,0H1M0,-1V1","filled":false,"size":18,"strokeWidth":1.3,"opacity":1},
     "encoding":{"x":{"field":"t","type":"quantitative","axis":null},"y":{"field":"v","type":"quantitative"},"color":{"field":"k","type":"nominal"}}},
    {"data":{"name":"s1"},"transform":[{"fold":["q"],"as":["k","v"]},{"filter":"isValid(datum.v)"},{"filter":"datum.t >= 595 && datum.v >= 2.1 && datum.v <= 2.25"}],
     "mark":{"type":"point","shape":"M-1,-1L1,1M1,-1L-1,1","filled":false,"size":18,"strokeWidth":1.3,"opacity":1},
     "encoding":{"x":{"field":"t","type":"quantitative","axis":null},"y":{"field":"v","type":"quantitative"},"color":{"field":"k","type":"nominal"}}}
   ]}
 ]},
{"width":541,"height":168,"data":{"values":[{}]},
 "layer":[
  {"data":{"name":"l2"},"transform":[{"fold":["p","q"],"as":["k","v"]},{"filter":"isValid(datum.v)"}],
   "mark":{"type":"line","strokeWidth":1.3},
   "encoding":{
    "x":{"field":"t","type":"quantitative","scale":{"domain":[0,200,445,647],"range":[0,269,269,541],"nice":false,"zero":false},"axis":{"values":[0,60,120,180,450,510,570,630],"tickCount":20,"labels":false,"title":null,"grid":true}},
    "y":{"field":"v","type":"quantitative","scale":{"domain":[0,110],"nice":false,"zero":false},"axis":{"orient":"left","values":[0,20,40,60,80,100],"tickCount":20,"labelOverlap":false,"title":["Arrival intensity","for peak arrivals (%)"],"titleX":-47,"titleY":84,"grid":true}},
    "color":{"field":"k","type":"nominal","scale":{"domain":["p","q"],"range":["#222222","#999999"]},"legend":{"orient":"none","legendX":266,"legendY":6,"title":null,"direction":"vertical","fillColor":"white","strokeColor":"#777","padding":3,"rowPadding":2.5,"labelFontSize":16.5,"labelColor":"#1a1a1a","labelOffset":28,"labelLimit":400,"symbolType":"M-10,0H20","symbolSize":4,"symbolStrokeWidth":1.4,"labelExpr":"datum.value == 'p' ? 'Standard PS (PS)' : 'Q-Learning-based PS (ANK-V)'"}},
    "strokeDash":{"field":"k","type":"nominal","scale":{"domain":["p","q"],"range":[[5,3],[1,0]]},"legend":{"orient":"none","legendX":266,"legendY":6,"title":null,"direction":"vertical","fillColor":"white","strokeColor":"#777","padding":3,"rowPadding":2.5,"labelFontSize":16.5,"labelColor":"#1a1a1a","labelOffset":28,"labelLimit":400,"symbolType":"M-10,0H20","symbolSize":4,"symbolStrokeWidth":1.4,"labelExpr":"datum.value == 'p' ? 'Standard PS (PS)' : 'Q-Learning-based PS (ANK-V)'"}},
    "detail":{"field":"t","type":"quantitative","bin":{"extent":[0,890],"step":445}}
   }},
  {"data":{"name":"l2"},"transform":[{"fold":["p","q"],"as":["k","v"]},{"filter":"isValid(datum.v)"},{"filter":"datum.k == 'p'"}],
   "mark":{"type":"point","shape":"M-1,0H1M0,-1V1","filled":false,"size":12,"strokeWidth":1,"color":"#222","opacity":1},
   "encoding":{"x":{"field":"t","type":"quantitative"},"y":{"field":"v","type":"quantitative"}}},
  {"mark":{"type":"rect","fill":"white","stroke":"#555","strokeWidth":1.2,"cornerRadius":4},"encoding":{"x":{"datum":149.4},"x2":{"datum":186.6},"y":{"datum":93.6},"y2":{"datum":106.1}}},
  {"mark":{"type":"text","text":"ED.5x","fontSize":17,"color":"#222"},"encoding":{"x":{"datum":168},"y":{"datum":99.8}}},
  {"mark":{"type":"point","shape":"M-1,-0.8L0.2,0.8M-0.2,-0.8L1,0.8","filled":false,"size":100,"color":"#444","strokeWidth":1,"opacity":1},"encoding":{"x":{"datum":200},"y":{"datum":110}}},
  {"mark":{"type":"point","shape":"M-1,-0.8L0.2,0.8M-0.2,-0.8L1,0.8","filled":false,"size":100,"color":"#444","strokeWidth":1,"opacity":1},"encoding":{"x":{"datum":200},"y":{"datum":0}}}
 ]},
{"width":541,"height":168,
 "resolve":{"scale":{"x":"independent","y":"independent"},"axis":{"x":"independent","y":"independent"}},
 "layer":[
  {"data":{"values":[{}]},
   "layer":[
    {"data":{"name":"s3"},"transform":[{"fold":["p"],"as":["k","v"]},{"filter":"isValid(datum.v)"}],
     "mark":{"type":"point","shape":"M-1,0H1M0,-1V1","filled":false,"size":18,"strokeWidth":1.3,"opacity":1},
     "encoding":{
      "x":{"field":"t","type":"quantitative","scale":{"domain":[0,200,445,647],"range":[0,269,269,541],"nice":false,"zero":false},"axis":{"values":[0,60,120,180,450,510,570,630],"tickCount":20,"labels":false,"title":null,"grid":true}},
      "y":{"field":"v","type":"quantitative","scale":{"domain":[0,2],"nice":false,"zero":false},"axis":{"orient":"left","values":[0,0.5,1,1.5,2],"tickCount":20,"format":".1f","labelOverlap":false,"title":["Cumulative average of","normalized waiting time"],"titleX":-47,"titleY":84,"grid":true}},
      "color":{"field":"k","type":"nominal","scale":{"domain":["p","q"],"range":["#141414","#9a9a9a"]},"legend":{"orient":"none","legendX":272,"legendY":6,"title":null,"direction":"vertical","fillColor":"white","strokeColor":"#777","padding":3,"rowPadding":6.5,"labelFontSize":16.5,"labelColor":"#1a1a1a","labelOffset":29,"labelLimit":400,"symbolType":"M-5.9,0H-4.1M-5,-0.9V0.9M0.85,0H2.65M1.75,-0.9V0.9M7.6,0H9.4M8.5,-0.9V0.9","symbolSize":16,"symbolStrokeWidth":1.3,"labelExpr":"datum.value == 'p' ? 'Standard PS (PS)' : 'Q-learning-based PS (ANK-V)'","encode":{"symbols":{"shape":{"value":{"expr":"datum.value == 'p' ? 'M-5.9,0H-4.1M-5,-0.9V0.9M0.85,0H2.65M1.75,-0.9V0.9M7.6,0H9.4M8.5,-0.9V0.9' : 'M-5.8,-0.8L-4.2,0.8M-4.2,-0.8L-5.8,0.8M0.95,-0.8L2.55,0.8M2.55,-0.8L0.95,0.8M7.7,-0.8L9.3,0.8M9.3,-0.8L7.7,0.8'"}}}}}}
     }},
    {"data":{"name":"s3"},"transform":[{"fold":["q"],"as":["k","v"]},{"filter":"isValid(datum.v)"}],
     "mark":{"type":"point","shape":"M-1,-1L1,1M1,-1L-1,1","filled":false,"size":18,"strokeWidth":1.3,"opacity":1},
     "encoding":{"x":{"field":"t","type":"quantitative"},"y":{"field":"v","type":"quantitative"},"color":{"field":"k","type":"nominal"}}},
    {"mark":{"type":"rect","fill":"transparent","stroke":"#9a9a9a","strokeWidth":1.2},"encoding":{"x":{"datum":30},"x2":{"datum":60},"y":{"datum":1.0},"y2":{"datum":1.75}}},
    {"mark":{"type":"rect","fill":"transparent","stroke":"#9a9a9a","strokeWidth":1.2},"encoding":{"x":{"datum":597},"x2":{"datum":646},"y":{"datum":0.86},"y2":{"datum":1.0}}},
    {"mark":{"type":"rule","color":"#9a9a9a","strokeWidth":1.2},"encoding":{"x":{"datum":30},"y":{"datum":1.0},"x2":{"datum":27.5},"y2":{"datum":0.833}}},
    {"mark":{"type":"rule","color":"#9a9a9a","strokeWidth":1.2},"encoding":{"x":{"datum":60},"y":{"datum":1.0},"x2":{"datum":66.9},"y2":{"datum":0.833}}},
    {"mark":{"type":"rule","color":"#9a9a9a","strokeWidth":1.2},"encoding":{"x":{"datum":597},"y":{"datum":1.0},"x2":{"datum":582.5},"y2":{"datum":0.714}}},
    {"mark":{"type":"rule","color":"#9a9a9a","strokeWidth":1.2},"encoding":{"x":{"datum":646},"y":{"datum":0.86},"x2":{"datum":642.8},"y2":{"datum":0.714}}},
    {"mark":{"type":"text","text":"Lower value is better","fontSize":17,"align":"left","color":"#222"},"encoding":{"x":{"datum":8.9},"y":{"datum":1.845}}},
    {"mark":{"type":"rect","fill":"white","stroke":"#555","strokeWidth":1.2,"cornerRadius":4},"encoding":{"x":{"datum":149.4},"x2":{"datum":175.5},"y":{"datum":1.7},"y2":{"datum":1.94}}},
    {"mark":{"type":"text","text":"PA3","fontSize":17,"color":"#222"},"encoding":{"x":{"datum":162.5},"y":{"datum":1.82}}},
    {"mark":{"type":"point","shape":"M-1,-0.8L0.2,0.8M-0.2,-0.8L1,0.8","filled":false,"size":100,"color":"#444","strokeWidth":1,"opacity":1},"encoding":{"x":{"datum":200},"y":{"datum":2}}},
    {"mark":{"type":"point","shape":"M-1,-0.8L0.2,0.8M-0.2,-0.8L1,0.8","filled":false,"size":100,"color":"#444","strokeWidth":1,"opacity":1},"encoding":{"x":{"datum":200},"y":{"datum":0}}}
   ]},
  {"data":{"values":[{}]},
   "layer":[
    {"mark":{"type":"rect","fill":"white","stroke":"#888","strokeWidth":1.2},"encoding":{"x":{"datum":30,"type":"quantitative","scale":{"domain":[30,60],"range":[37,90],"nice":false,"zero":false},"axis":null},"x2":{"datum":60},"y":{"datum":1.0,"type":"quantitative","scale":{"domain":[1.0,1.75],"range":[154,98],"nice":false,"zero":false},"axis":{"orient":"left","offset":-37,"values":[1,1.25,1.5,1.75],"tickCount":20,"format":".2f","labelOverlap":false,"grid":false,"title":null,"labelPadding":5}},"y2":{"datum":1.75}}},
    {"data":{"name":"s3"},"transform":[{"fold":["p"],"as":["k","v"]},{"filter":"isValid(datum.v)"},{"filter":"datum.t >= 30 && datum.t <= 60 && datum.v >= 1.0 && datum.v <= 1.75"}],
     "mark":{"type":"point","shape":"M-1,0H1M0,-1V1","filled":false,"size":18,"strokeWidth":1.3,"opacity":1},
     "encoding":{"x":{"field":"t","type":"quantitative","axis":null},"y":{"field":"v","type":"quantitative"},"color":{"field":"k","type":"nominal"}}},
    {"data":{"name":"s3"},"transform":[{"fold":["q"],"as":["k","v"]},{"filter":"isValid(datum.v)"},{"filter":"datum.t >= 30 && datum.t <= 60 && datum.v >= 1.0 && datum.v <= 1.75"}],
     "mark":{"type":"point","shape":"M-1,-1L1,1M1,-1L-1,1","filled":false,"size":18,"strokeWidth":1.3,"opacity":1},
     "encoding":{"x":{"field":"t","type":"quantitative","axis":null},"y":{"field":"v","type":"quantitative"},"color":{"field":"k","type":"nominal"}}}
   ]},
  {"data":{"values":[{}]},
   "layer":[
    {"mark":{"type":"rect","fill":"white","stroke":"#888","strokeWidth":1.2},"encoding":{"x":{"datum":597,"type":"quantitative","scale":{"domain":[597,648],"range":[454,535],"nice":false,"zero":false},"axis":null},"x2":{"datum":648},"y":{"datum":0.85,"type":"quantitative","scale":{"domain":[0.85,1.0],"range":[155,108],"nice":false,"zero":false},"axis":{"orient":"left","offset":-454,"values":[0.85,0.9,0.95,1.0],"tickCount":20,"format":".2f","labelOverlap":false,"grid":false,"title":null,"labelPadding":5}},"y2":{"datum":1.0}}},
    {"data":{"name":"s3"},"transform":[{"fold":["p"],"as":["k","v"]},{"filter":"isValid(datum.v)"},{"filter":"datum.t >= 597 && datum.v >= 0.85 && datum.v <= 1.0"}],
     "mark":{"type":"point","shape":"M-1,0H1M0,-1V1","filled":false,"size":18,"strokeWidth":1.3,"opacity":1},
     "encoding":{"x":{"field":"t","type":"quantitative","axis":null},"y":{"field":"v","type":"quantitative"},"color":{"field":"k","type":"nominal"}}},
    {"data":{"name":"s3"},"transform":[{"fold":["q"],"as":["k","v"]},{"filter":"isValid(datum.v)"},{"filter":"datum.t >= 597 && datum.v >= 0.85 && datum.v <= 1.0"}],
     "mark":{"type":"point","shape":"M-1,-1L1,1M1,-1L-1,1","filled":false,"size":18,"strokeWidth":1.3,"opacity":1},
     "encoding":{"x":{"field":"t","type":"quantitative","axis":null},"y":{"field":"v","type":"quantitative"},"color":{"field":"k","type":"nominal"}}}
   ]}
 ]},
{"width":541,"height":169,"data":{"values":[{}]},
 "layer":[
  {"data":{"name":"l4"},"transform":[{"fold":["p","q"],"as":["k","v"]},{"filter":"isValid(datum.v)"}],
   "mark":{"type":"line","strokeWidth":1.3},
   "encoding":{
    "x":{"field":"t","type":"quantitative","scale":{"domain":[0,200,445,647],"range":[0,269,269,541],"nice":false,"zero":false},"axis":{"values":[0,60,120,180,450,510,570,630],"tickCount":20,"title":"Wall clock time (s)","grid":true,"labelOverlap":false,"labelFlush":false,"labelFontSize":15.5,"titleFontSize":17,"titlePadding":2}},
    "y":{"field":"v","type":"quantitative","scale":{"domain":[0,110],"nice":false,"zero":false},"axis":{"orient":"left","values":[0,20,40,60,80,100],"tickCount":20,"labelOverlap":false,"title":["Arrival intensity","for peak arrivals (%)"],"titleX":-47,"titleY":84.5,"grid":true}},
    "color":{"field":"k","type":"nominal","scale":{"domain":["p","q"],"range":["#222222","#999999"]},"legend":{"orient":"none","legendX":266,"legendY":8,"title":null,"direction":"vertical","fillColor":"white","strokeColor":"#777","padding":3,"rowPadding":2.5,"labelFontSize":16.5,"labelColor":"#1a1a1a","labelOffset":28,"labelLimit":400,"symbolType":"M-10,0H20","symbolSize":4,"symbolStrokeWidth":1.4,"labelExpr":"datum.value == 'p' ? 'Standard PS (PS)' : 'Q-Learning-based PS (ANK-V)'"}},
    "strokeDash":{"field":"k","type":"nominal","scale":{"domain":["p","q"],"range":[[5,3],[1,0]]},"legend":{"orient":"none","legendX":266,"legendY":8,"title":null,"direction":"vertical","fillColor":"white","strokeColor":"#777","padding":3,"rowPadding":2.5,"labelFontSize":16.5,"labelColor":"#1a1a1a","labelOffset":28,"labelLimit":400,"symbolType":"M-10,0H20","symbolSize":4,"symbolStrokeWidth":1.4,"labelExpr":"datum.value == 'p' ? 'Standard PS (PS)' : 'Q-Learning-based PS (ANK-V)'"}},
    "detail":{"field":"t","type":"quantitative","bin":{"extent":[0,890],"step":445}}
   }},
  {"data":{"name":"l4"},"transform":[{"fold":["p","q"],"as":["k","v"]},{"filter":"isValid(datum.v)"},{"filter":"datum.k == 'p'"}],
   "mark":{"type":"point","shape":"M-1,0H1M0,-1V1","filled":false,"size":12,"strokeWidth":1,"color":"#222","opacity":1},
   "encoding":{"x":{"field":"t","type":"quantitative"},"y":{"field":"v","type":"quantitative"}}},
  {"mark":{"type":"rect","fill":"white","stroke":"#555","strokeWidth":1.2,"cornerRadius":4},"encoding":{"x":{"datum":149.4},"x2":{"datum":175.5},"y":{"datum":90.5},"y2":{"datum":106.1}}},
  {"mark":{"type":"text","text":"PA3","fontSize":17,"color":"#222"},"encoding":{"x":{"datum":162.5},"y":{"datum":98.3}}},
  {"mark":{"type":"point","shape":"M-1,-0.8L0.2,0.8M-0.2,-0.8L1,0.8","filled":false,"size":100,"color":"#444","strokeWidth":1,"opacity":1},"encoding":{"x":{"datum":200},"y":{"datum":110}}},
  {"mark":{"type":"point","shape":"M-1,-0.8L0.2,0.8M-0.2,-0.8L1,0.8","filled":false,"size":100,"color":"#444","strokeWidth":1,"opacity":1},"encoding":{"x":{"datum":200},"y":{"datum":0}}}
 ]}
],
"resolve":{"scale":{"x":"independent","y":"independent","color":"independent","strokeDash":"independent"},"legend":{"color":"independent","strokeDash":"independent"}},
"config":{
 "font":"Liberation Serif",
 "view":{"stroke":"#888","strokeWidth":1.5},
 "axis":{"labelFont":"Liberation Serif","titleFont":"Liberation Serif","labelFontSize":15,"labelColor":"#222","titleFontSize":17.5,"titleFontWeight":"normal","titleColor":"#222","gridColor":"#c4c4c4","gridDash":[2,2],"gridWidth":1,"ticks":false,"domain":false,"labelPadding":4,"titleLineHeight":18,"labelOverlap":false},
 "legend":{"labelFont":"Liberation Serif"},
 "text":{"font":"Liberation Serif"}
}
}
